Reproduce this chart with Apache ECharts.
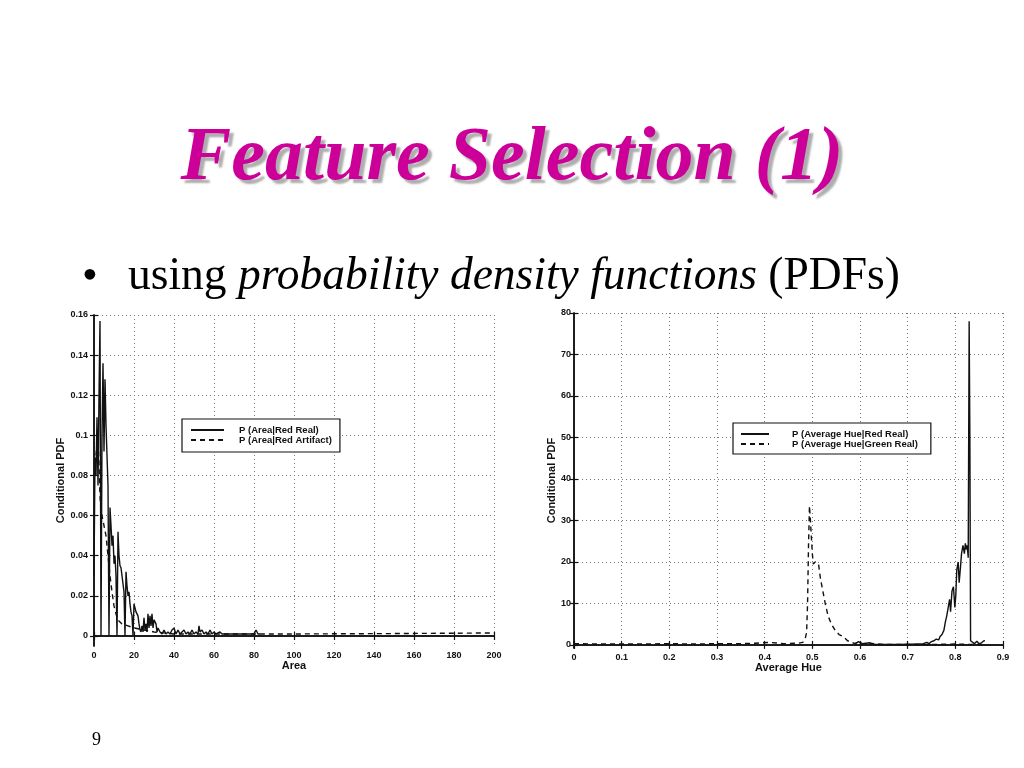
<!DOCTYPE html>
<html><head><meta charset="utf-8">
<script src="https://cdn.jsdelivr.net/npm/echarts@6/dist/echarts.min.js"></script>
<style>html,body{margin:0;padding:0;background:#fff}#c{width:1024px;height:768px}</style>
</head><body><div id="c"></div>
<script>
// ---- Left chart: Area ----
const areaTicks = [0,20,40,60,80,100,120,140,160,180,200];
const pdfTicksLeft = [0,0.02,0.04,0.06,0.08,0.1,0.12,0.14,0.16];
const areaRealX = [0,0.5,1,1.5,2,2.5,3,3.5,4,4.5,5,5.5,6,6.5,7,7.5,8,8.5,9,9.5,10,10.5,11,11.5,12,12.5,13,13.5,14,14.5,15,15.5,16,16.5,17,17.5,18,18.5,19,19.5,20,20.5,21,22,22.5,23,23.5,24,24.5,25,25.5,26,26.5,27,27.5,28,28.5,29,29.5,30,31,31.5,32,33,34,35,36,37,38,39,40,41,42,43,44,45,46,47,48,49,50,51,52,52.5,53,54,55,56,57,58,59,60,61,62,63,64,66,68,70,72,74,76,78,80,81,82,83];
const areaRealY = [0.030,0.089,0.080,0.109,0.075,0.120,0.157,0.000,0.100,0.136,0.092,0.128,0.105,0.090,0.075,0.000,0.064,0.055,0.045,0.050,0.036,0.040,0.030,0.000,0.052,0.040,0.035,0.034,0.030,0.026,0.022,0.000,0.032,0.025,0.020,0.022,0.016,0.012,0.010,0.000,0.016,0.014,0.012,0.010,0.006,0.003,0.002,0.005,0.002,0.009,0.003,0.006,0.002,0.011,0.004,0.010,0.005,0.011,0.004,0.008,0.006,0.002,0.004,0.002,0.001,0.003,0.001,0.002,0.001,0.003,0.004,0.001,0.003,0.001,0.002,0.003,0.001,0.002,0.001,0.003,0.001,0.002,0.001,0.005,0.002,0.003,0.001,0.002,0.001,0.003,0.001,0.002,0.001,0.001,0.002,0.001,0.001,0.001,0.001,0.001,0.001,0.001,0.001,0.001,0.003,0.001,0.001];
const areaArtX = [1,2,2.5,3,3.5,4,5,6,7,8,9,10,11,12,14,17,20,25,30,40,60,100,150,200];
const areaArtY = [0.090,0.100,0.085,0.070,0.062,0.060,0.055,0.050,0.040,0.030,0.022,0.015,0.011,0.008,0.006,0.005,0.004,0.003,0.002,0.001,0.001,0.001,0.0012,0.0015];

// ---- Right chart: Average Hue ----
const hueTicks = [0,0.1,0.2,0.3,0.4,0.5,0.6,0.7,0.8,0.9];
const pdfTicksRight = [0,10,20,30,40,50,60,70,80];
const hueRedX = [0.590,0.597,0.603,0.62,0.63,0.68,0.73,0.740,0.745,0.750,0.755,0.760,0.765,0.768,0.772,0.776,0.779,0.782,0.785,0.788,0.790,0.793,0.796,0.799,0.801,0.803,0.806,0.808,0.811,0.813,0.816,0.819,0.821,0.823,0.825,0.827,0.829,0.8305,0.832,0.835,0.840,0.845,0.850,0.855,0.860,0.862];
const hueRedY = [0.3,0.8,0.2,0.5,0.1,0.1,0.2,0.6,0.3,0.8,1.0,1.4,1.2,2.0,2.5,3.5,5.5,7,9,11,8,13,14,9,12,18,20,15,19,22,24,22,24.5,23,24,21,78,50,1,0.6,0.3,0.9,0.3,0.5,1.0,1.0];
const hueGreenX = [0.00,0.05,0.10,0.15,0.20,0.25,0.30,0.35,0.38,0.41,0.44,0.47,0.48,0.485,0.488,0.490,0.492,0.494,0.496,0.498,0.500,0.502,0.506,0.510,0.513,0.517,0.522,0.527,0.533,0.540,0.548,0.556,0.565,0.574,0.582,0.590,0.597,0.605,0.62,0.65,0.70,0.75,0.80,0.84,0.86];
const hueGreenY = [0.3,0.2,0.2,0.2,0.3,0.2,0.3,0.3,0.4,0.6,0.3,0.4,0.6,1.5,3,10,24,33.5,30,26,22,19.5,20,20,19.5,16,13,10,7,5,3.5,2.5,2,1,0.6,0.3,0.8,0.3,0.4,0.1,0.1,0.1,0.2,0.1,0.1];

const zip = (xs, ys) => xs.map((x, i) => [x, ys[i]]);
const FONT = 'Liberation Sans';
const ink = '#111';
const gridLine = {show: true, lineStyle: {color: '#777', width: 1, type: [1, 3]}};
const frameLine = {show: true, lineStyle: {color: ink, width: 1.5}};
const tickIn = (vals) => ({show: true, inside: true, length: 4, lineStyle: {color: ink, width: 1.2}, customValues: vals});
const lbl = {color: ink, fontFamily: FONT, fontSize: 9, fontWeight: 'bold'};
const legendText = (pad) => ({color: ink, fontFamily: FONT, fontSize: 9.5, fontWeight: 'bold', padding: [0, 0, 0, pad]});
const noSymbol = {color: 'rgba(0,0,0,0)', borderColor: 'rgba(0,0,0,0)', borderWidth: 0};

const chart = echarts.init(document.getElementById('c'), null, {renderer: 'canvas'});
chart.setOption({
  animation: false,
  backgroundColor: '#fff',
  title: [
    {text: 'Feature Selection (1)', left: 'center', top: 116,
     textStyle: {fontFamily: 'Liberation Serif', fontStyle: 'italic', fontWeight: 'bold', fontSize: 76, lineHeight: 76,
       color: '#cc0099', textShadowColor: 'rgba(130,130,130,0.65)', textShadowOffsetX: 4, textShadowOffsetY: 4, textShadowBlur: 2}},
    {text: '•', left: 77, top: 250, textStyle: {fontFamily: 'Liberation Serif', fontWeight: 'normal', fontSize: 45, lineHeight: 45, color: '#000'}},
    {text: '{a|using }{b|probability density functions}{a| (PDFs)}', left: 123, top: 250,
     textStyle: {fontWeight: 'normal', rich: {
       a: {fontFamily: 'Liberation Serif', fontWeight: 'normal', fontSize: 45.5, lineHeight: 45, color: '#000'},
       b: {fontFamily: 'Liberation Serif', fontWeight: 'normal', fontStyle: 'italic', fontSize: 45.5, lineHeight: 45, color: '#000'}}}},
    {text: '9', left: 87, top: 726, textStyle: {fontFamily: 'Liberation Serif', fontWeight: 'normal', fontSize: 18, color: '#000'}}
  ],
  legend: [
    {orient: 'vertical', left: 182, top: 419, padding: [6, 8, 7, 8], itemGap: 0, itemWidth: 33, itemHeight: 9,
     borderColor: ink, borderWidth: 1.2, selectedMode: false, backgroundColor: '#fff',
     itemStyle: noSymbol, textStyle: legendText(10),
     data: ['P (Area|Red Real)', 'P (Area|Red Artifact)']},
    {orient: 'vertical', left: 733, top: 423, padding: [6, 13, 5, 7], itemGap: 0, itemWidth: 28, itemHeight: 9,
     borderColor: ink, borderWidth: 1.2, selectedMode: false, backgroundColor: '#fff',
     itemStyle: noSymbol, textStyle: legendText(18),
     data: ['P (Average Hue|Red Real)', 'P (Average Hue|Green Real)']}
  ],
  grid: [
    {left: 94, top: 315, width: 400, height: 331, containLabel: false},
    {left: 574, top: 313, width: 429, height: 335, containLabel: false}
  ],
  xAxis: [
    {gridIndex: 0, type: 'value', min: 0, max: 200, interval: 20, position: 'bottom',
     axisLine: frameLine, axisTick: tickIn(areaTicks), splitLine: gridLine,
     axisLabel: Object.assign({margin: 5, customValues: areaTicks}, lbl),
     name: 'Area', nameLocation: 'middle', nameGap: 13,
     nameTextStyle: {color: ink, fontFamily: FONT, fontSize: 11, fontWeight: 'bold', verticalAlign: 'top'}},
    {gridIndex: 0, type: 'value', min: 0, max: 200, interval: 20, position: 'top',
     axisLine: frameLine, axisTick: tickIn(areaTicks), axisLabel: {show: false}, splitLine: {show: false}},
    {gridIndex: 1, type: 'value', min: 0, max: 0.9, interval: 0.1, position: 'bottom',
     axisLine: frameLine, axisTick: tickIn(hueTicks), splitLine: gridLine,
     axisLabel: Object.assign({margin: 5, customValues: hueTicks}, lbl),
     name: 'Average Hue', nameLocation: 'middle', nameGap: 14,
     nameTextStyle: {color: ink, fontFamily: FONT, fontSize: 11, fontWeight: 'bold', verticalAlign: 'top'}},
    {gridIndex: 1, type: 'value', min: 0, max: 0.9, interval: 0.1, position: 'top',
     axisLine: frameLine, axisTick: tickIn(hueTicks), axisLabel: {show: false}, splitLine: {show: false}}
  ],
  yAxis: [
    {gridIndex: 0, type: 'value', min: -0.005, max: 0.16, position: 'left',
     axisLine: frameLine, axisTick: tickIn(pdfTicksLeft), splitLine: gridLine,
     axisLabel: Object.assign({margin: 6, customValues: pdfTicksLeft}, lbl),
     name: 'Conditional PDF', nameLocation: 'middle', nameGap: 25,
     nameTextStyle: {color: ink, fontFamily: FONT, fontSize: 11, fontWeight: 'bold'}},
    {gridIndex: 0, type: 'value', min: -0.005, max: 0.16, position: 'right',
     axisLine: frameLine, axisTick: tickIn(pdfTicksLeft), axisLabel: {show: false}, splitLine: {show: false}},
    {gridIndex: 1, type: 'value', min: -0.75, max: 80, position: 'left',
     axisLine: frameLine, axisTick: tickIn(pdfTicksRight), splitLine: gridLine,
     axisLabel: Object.assign({margin: 3, customValues: pdfTicksRight}, lbl),
     name: 'Conditional PDF', nameLocation: 'middle', nameGap: 15,
     nameTextStyle: {color: ink, fontFamily: FONT, fontSize: 11, fontWeight: 'bold'}},
    {gridIndex: 1, type: 'value', min: -0.75, max: 80, position: 'right',
     axisLine: frameLine, axisTick: tickIn(pdfTicksRight), axisLabel: {show: false}, splitLine: {show: false}}
  ],
  series: [
    {name: 'P (Area|Red Real)', type: 'line', xAxisIndex: 0, yAxisIndex: 0, data: zip(areaRealX, areaRealY),
     showSymbol: false, symbol: 'none', lineStyle: {color: ink, width: 1.4, type: 'solid'}, itemStyle: {color: ink}, z: 3},
    {name: 'P (Area|Red Artifact)', type: 'line', xAxisIndex: 0, yAxisIndex: 0, data: zip(areaArtX, areaArtY),
     showSymbol: false, symbol: 'none', lineStyle: {color: ink, width: 1.4, type: [5, 4]}, itemStyle: {color: ink}, z: 2},
    {name: 'P (Average Hue|Red Real)', type: 'line', xAxisIndex: 2, yAxisIndex: 2, data: zip(hueRedX, hueRedY),
     showSymbol: false, symbol: 'none', lineStyle: {color: ink, width: 1.4, type: 'solid'}, itemStyle: {color: ink}, z: 3},
    {name: 'P (Average Hue|Green Real)', type: 'line', xAxisIndex: 2, yAxisIndex: 2, data: zip(hueGreenX, hueGreenY),
     showSymbol: false, symbol: 'none', lineStyle: {color: ink, width: 1.4, type: [5, 4]}, itemStyle: {color: ink}, z: 2}
  ]
});
</script>
</body></html>
